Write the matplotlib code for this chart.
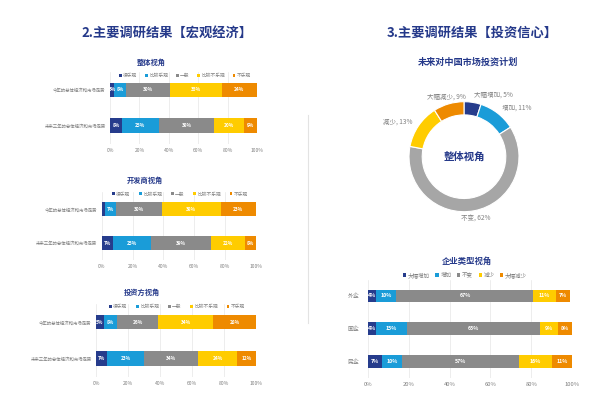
import matplotlib
matplotlib.use('Agg')
import matplotlib.pyplot as plt

plt.rcParams['font.family'] = ['Noto Sans CJK SC', 'DejaVu Sans']

# 宏观经济
macro_cats = ['很乐观', '比较乐观', '一般', '比较不乐观', '不乐观']
macro_rows = ['今年的总体经济和市场走势', '未来三年的总体经济和市场走势']
overall_this_year = [3, 8, 30, 35, 24]
overall_three_years = [8, 25, 38, 20, 9]
developer_this_year = [2, 7, 30, 38, 23]
developer_three_years = [7, 25, 39, 22, 8]
investor_this_year = [5, 8, 26, 34, 28]
investor_three_years = [7, 23, 34, 24, 12]

# 投资信心
plan_cats = ['大幅增加', '增加', '不变', '减少', '大幅减少']
plan_overall = [5, 11, 62, 13, 9]
firm_types = ['外企', '国企', '民企']
plan_foreign = [4, 10, 67, 11, 7]
plan_state = [4, 15, 65, 9, 8]
plan_private = [7, 10, 57, 16, 11]

colors = ['#263c8c', '#1a9cd8', '#8a8a8a', '#ffcc00', '#ee8a00']
donut_colors = ['#263c8c', '#1a9cd8', '#a6a6a6', '#ffcc00', '#ee8a00']
navy = '#25398a'
grey_txt = '#7f7f7f'

W, H = 599, 398
fig = plt.figure(figsize=(W / 100, H / 100), dpi=100)


def px_axes(x0, x1, y0, y1):
    return fig.add_axes([x0 / W, 1 - y1 / H, (x1 - x0) / W, (y1 - y0) / H])


def stacked(ax, rows, labels, cats, cols, bar_h, tick_fs, ylab_fs, val_fs):
    n = len(rows)
    ypos = list(range(n))
    left = [0] * n
    handles = []
    for j, cat in enumerate(cats):
        vals = [r[j] for r in rows]
        bars = ax.barh(ypos, vals, left=left, height=bar_h, color=cols[j], label=cat, zorder=2)
        handles.append(bars)
        ax.bar_label(bars, labels=[f'{v}%' if v >= 3 else '' for v in vals],
                     label_type='center', color='white', fontsize=val_fs, fontweight='bold')
        left = [a + b for a, b in zip(left, vals)]
    ax.set_xlim(0, 100)
    ax.set_ylim(n - 0.5, -0.5)
    ax.set_yticks(ypos)
    ax.set_yticklabels(labels, fontsize=ylab_fs, color=grey_txt)
    ax.set_xticks(range(0, 101, 20))
    ax.set_xticklabels([f'{t}%' for t in range(0, 101, 20)], fontsize=tick_fs, color=grey_txt)
    ax.tick_params(length=0, pad=3)
    ax.grid(axis='x', color='#e6e6e6', linewidth=0.5, zorder=0)
    for s in ax.spines.values():
        s.set_visible(False)
    return handles


def legend_at(ax, handles, cats, cx, cy, fs, spacing):
    ax.legend(handles, cats, loc='center', bbox_to_anchor=(cx / W, 1 - cy / H),
              bbox_transform=fig.transFigure, ncol=len(cats), frameon=False,
              fontsize=fs, handlelength=0.6, handleheight=0.6, handletextpad=0.3,
              columnspacing=spacing, labelcolor=grey_txt, borderaxespad=0)


# main titles
fig.text(167 / W, 1 - 33 / H, '2.主要调研结果【宏观经济】', ha='center', va='center',
         fontsize=9.5, fontweight='bold', color=navy)
fig.text(472 / W, 1 - 33 / H, '3.主要调研结果【投资信心】', ha='center', va='center',
         fontsize=9.5, fontweight='bold', color=navy)

# separator
fig.add_artist(plt.Line2D([308 / W, 308 / W], [1 - 115 / H, 1 - 323 / H],
                          color='#e3e3e3', linewidth=0.8))

# 整体视角
ax1 = px_axes(110, 257, 72, 143.5)
h = stacked(ax1, [overall_this_year, overall_three_years], macro_rows, macro_cats, colors,
            0.4, 3.6, 3.2, 3.4)
legend_at(ax1, h, macro_cats, 185, 75.7, 3.4, 1.6)
fig.text(151.5 / W, 1 - 62 / H, '整体视角', ha='center', va='center', fontsize=5.2,
         fontweight='bold', color=navy)

# 开发商视角
ax2 = px_axes(101.7, 256, 192, 260)
h = stacked(ax2, [developer_this_year, developer_three_years], macro_rows, macro_cats, colors,
            0.41, 3.6, 3.2, 3.4)
legend_at(ax2, h, macro_cats, 180, 194, 3.4, 1.8)
fig.text(145 / W, 1 - 180 / H, '开发商视角', ha='center', va='center', fontsize=5.2,
         fontweight='bold', color=navy)

# 投资方视角
ax3 = px_axes(96, 256, 303.75, 376.75)
h = stacked(ax3, [investor_this_year, investor_three_years], macro_rows, macro_cats, colors,
            0.4, 3.6, 3.2, 3.4)
legend_at(ax3, h, macro_cats, 177, 306.7, 3.4, 1.8)
fig.text(141.5 / W, 1 - 292 / H, '投资方视角', ha='center', va='center', fontsize=5.2,
         fontweight='bold', color=navy)

# donut
fig.text(468 / W, 1 - 61.7 / H, '未来对中国市场投资计划', ha='center', va='center',
         fontsize=6.6, fontweight='bold', color=navy)
R = 55
cx, cy = 464, 156.7
axd = px_axes(cx - R, cx + R, cy - R, cy + R)
wedges, texts = axd.pie(plan_overall, colors=donut_colors, startangle=90, counterclock=False,
                        radius=1, labels=[f'{c}, {v}%' for c, v in zip(plan_cats, plan_overall)],
                        labeldistance=1.14,
                        wedgeprops=dict(width=0.24, edgecolor='white', linewidth=0.8),
                        textprops=dict(fontsize=4.7, color=grey_txt))
texts[2].set_ha('center')
texts[4].set_ha('center')
axd.set_xlim(-1, 1)
axd.set_ylim(-1, 1)
axd.text(0, 0, '整体视角', ha='center', va='center', fontsize=7.5, fontweight='bold', color=navy)

# 企业类型视角
fig.text(466.7 / W, 1 - 261.7 / H, '企业类型视角', ha='center', va='center', fontsize=6,
         fontweight='bold', color=navy)
ax4 = px_axes(367.7, 572.3, 279.6, 377.7)
h = stacked(ax4, [plan_foreign, plan_state, plan_private], firm_types, plan_cats, colors,
            0.39, 4.2, 4.2, 3.8)
ax4.tick_params(axis='y', pad=6)
legend_at(ax4, h, plan_cats, 465, 275, 4.0, 1.0)

fig.savefig('out.png', dpi=100)
